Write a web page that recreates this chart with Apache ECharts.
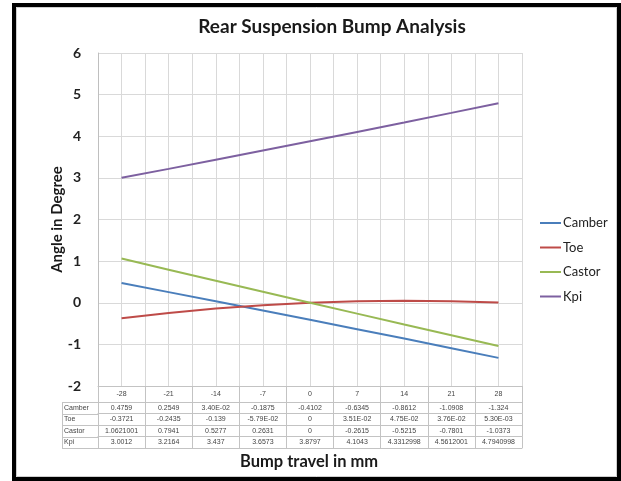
<!DOCTYPE html>
<html>
<head>
<meta charset="utf-8">
<title>Rear Suspension Bump Analysis</title>
<script src="https://cdn.jsdelivr.net/npm/echarts@6/dist/echarts.min.js"></script>
<style>
  html, body { margin: 0; padding: 0; background: #ffffff; }
  #chart { width: 621px; height: 481px; }
</style>
</head>
<body>
<div id="chart"></div>
<script>
// Bump travel positions (mm)
const categories = ['-28', '-21', '-14', '-7', '0', '7', '14', '21', '28'];

// Values as printed in the data table under the chart
const camberText = ['0.4759', '0.2549', '3.40E-02', '-0.1875', '-0.4102', '-0.6345', '-0.8612', '-1.0908', '-1.324'];
const toeText    = ['-0.3721', '-0.2435', '-0.139', '-5.79E-02', '0', '3.51E-02', '4.75E-02', '3.76E-02', '5.30E-03'];
const castorText = ['1.0621001', '0.7941', '0.5277', '0.2631', '0', '-0.2615', '-0.5215', '-0.7801', '-1.0373'];
const kpiText    = ['3.0012', '3.2164', '3.437', '3.6573', '3.8797', '4.1043', '4.3312998', '4.5612001', '4.7940998'];

const seriesNames = ['Camber', 'Toe', 'Castor', 'Kpi'];
const yTicks = { min: -2, max: 6, step: 1 };

// ---- layout & style ----
const FONT = 'Lato, "Open Sans", sans-serif';
const TABLE_FONT = '"Liberation Sans", Arial, sans-serif';
const colors = ['#4a7ebb', '#be4b48', '#98b954', '#7d60a0'];
const gridLineColor = '#d9d9d9';
const tableLineColor = '#c3c3c3';
const G = { left: 98, top: 53, width: 424, height: 333 };
const headerH = 16;
const rowH = 11.5;
const rowLabelLeft = 62;

const rowTexts = [camberText, toeText, castorText, kpiText];
const rowValues = rowTexts.map(r => r.map(Number));

const plotBottom = G.top + G.height;

const xAxes = [
  {
    // header row of the table: category labels
    type: 'category', gridIndex: 0, data: categories, position: 'bottom', offset: 0,
    boundaryGap: true,
    axisLine: { show: true, onZero: false, lineStyle: { color: tableLineColor, width: 1 } },
    axisTick: { show: true, length: headerH, lineStyle: { color: tableLineColor } },
    axisLabel: { interval: 0, fontSize: 7, color: '#444', fontFamily: TABLE_FONT, margin: 5 },
    splitLine: { show: false }
  }
];

rowTexts.forEach((texts, i) => {
  xAxes.push({
    type: 'category', gridIndex: 0, data: categories, position: 'bottom',
    offset: headerH + i * rowH, boundaryGap: true,
    axisLine: { show: true, onZero: false, lineStyle: { color: tableLineColor, width: 1 } },
    axisTick: { show: true, length: rowH, lineStyle: { color: tableLineColor } },
    axisLabel: {
      interval: 0, fontSize: 7, color: '#444', fontFamily: TABLE_FONT, margin: 2.5,
      formatter: (v, idx) => texts[idx]
    },
    splitLine: { show: false },
    name: seriesNames[i], nameLocation: 'start', nameGap: G.left - rowLabelLeft - 2,
    nameTextStyle: {
      align: 'left', verticalAlign: 'top', padding: [2.5, 0, 0, 0],
      fontSize: 7, color: '#444', fontFamily: TABLE_FONT
    }
  });
});

// closing line under the last table row
xAxes.push({
  type: 'category', gridIndex: 0, data: categories, position: 'bottom',
  offset: headerH + rowTexts.length * rowH,
  axisLine: { show: true, onZero: false, lineStyle: { color: tableLineColor, width: 1 } },
  axisTick: { show: false }, axisLabel: { show: false }, splitLine: { show: false }
});

// value axis used only for the vertical gridlines (category edges and centres)
xAxes.push({
  type: 'value', gridIndex: 0, position: 'top',
  min: -31.5, max: 31.5, interval: 3.5,
  axisLine: { show: false, onZero: false }, axisTick: { show: false }, axisLabel: { show: false },
  splitLine: { show: true, lineStyle: { color: gridLineColor, width: 1 } }
});

// left column of the table (row header cells)
const tableGraphics = [];
const tableTop = plotBottom + headerH;
const tableBottom = plotBottom + headerH + rowTexts.length * rowH;
tableGraphics.push({
  type: 'line', silent: true,
  shape: { x1: rowLabelLeft + 0.5, y1: tableTop, x2: rowLabelLeft + 0.5, y2: tableBottom },
  style: { stroke: tableLineColor, lineWidth: 1 }
});
for (let i = 0; i <= rowTexts.length; i++) {
  const y = Math.round(tableTop + i * rowH) + 0.5;
  tableGraphics.push({
    type: 'line', silent: true,
    shape: { x1: rowLabelLeft, y1: y, x2: G.left, y2: y },
    style: { stroke: tableLineColor, lineWidth: 1 }
  });
}

const chart = echarts.init(document.getElementById('chart'), null, { renderer: 'canvas' });

chart.setOption({
  animation: false,
  backgroundColor: '#ffffff',
  color: colors,
  title: {
    text: 'Rear Suspension Bump Analysis',
    left: 327, top: 12, textAlign: 'center',
    textStyle: { fontFamily: FONT, fontWeight: 'bold', fontSize: 19, color: '#1a1a1a' }
  },
  legend: {
    orient: 'vertical', left: 535, top: 211,
    itemWidth: 21, itemHeight: 2, itemGap: 10.5,
    icon: 'rect',
    data: seriesNames,
    textStyle: { fontFamily: FONT, fontSize: 13, color: '#222', lineHeight: 14, padding: [0, 0, 0, -3] }
  },
  grid: { left: G.left, top: G.top, width: G.width, height: G.height, containLabel: false },
  xAxis: xAxes,
  yAxis: {
    type: 'value', min: yTicks.min, max: yTicks.max, interval: yTicks.step,
    axisLine: { show: true, onZero: false, lineStyle: { color: '#bfbfbf' } },
    axisTick: { show: false },
    axisLabel: { fontFamily: FONT, fontWeight: 'bold', fontSize: 14, color: '#222', margin: 17 },
    splitLine: { show: true, lineStyle: { color: gridLineColor } },
    name: 'Angle in Degree', nameLocation: 'middle', nameGap: 33, nameMoveOverlap: false,
    nameTextStyle: { fontFamily: FONT, fontWeight: 'bold', fontSize: 15, color: '#1a1a1a' }
  },
  series: seriesNames.map((name, i) => ({
    name, type: 'line', xAxisIndex: 0, yAxisIndex: 0,
    data: rowValues[i],
    showSymbol: false, symbol: 'none',
    lineStyle: { width: 2, color: colors[i] },
    itemStyle: { color: colors[i] }
  })),
  graphic: [
    {
      type: 'text', silent: true,
      left: 240, top: 453,
      style: { text: 'Bump travel in mm', fontFamily: FONT, fontWeight: 'bold', fontSize: 16.5, fill: '#1a1a1a' }
    },
    {
      type: 'rect', silent: true, z: 100,
      shape: { x: 14, y: 5, width: 605, height: 474 },
      style: { fill: 'none', stroke: '#000000', lineWidth: 4 }
    },
    {
      type: 'rect', silent: true, z: 99,
      shape: { x: 16.5, y: 7.5, width: 600, height: 469 },
      style: { fill: 'none', stroke: '#cfcfcf', lineWidth: 1 }
    }
  ].concat(tableGraphics)
});
</script>
</body>
</html>
